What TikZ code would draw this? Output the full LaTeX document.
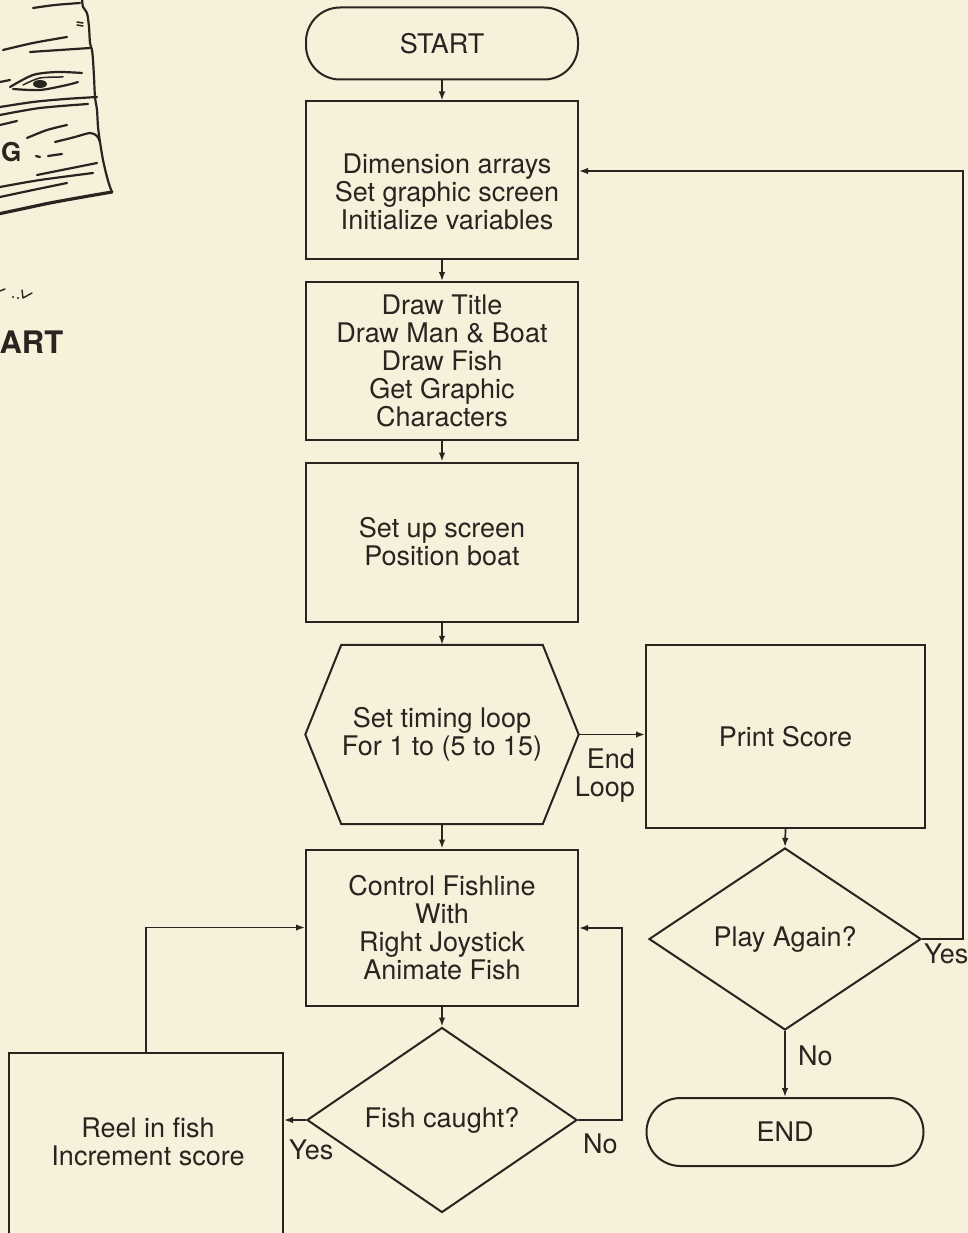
\documentclass[tikz,border=0pt]{standalone}
\usepackage{fontspec}
\setmainfont{TeX Gyre Heros}
\usetikzlibrary{arrows.meta,shapes.geometric}
\definecolor{paper}{RGB}{247,240,218}
\definecolor{ink}{RGB}{40,36,32}
\begin{document}
\begin{tikzpicture}[x=1pt,y=-1pt,
  every node/.style={font=\fontsize{27}{28}\selectfont, text=ink, inner sep=0pt},
  outline/.style={draw=ink, line width=2pt},
  procbox/.style={outline, rectangle, align=center},
  termbox/.style={outline, rectangle, rounded corners=34pt, align=center},
  decision/.style={outline, diamond, align=center},
  flow/.style={draw=ink, line width=1.7pt, -{Latex[length=9pt,width=6.5pt]}},
  sketch/.style={draw=ink, line width=2.2pt, line cap=round, line join=round},
  signfont/.style={font=\fontsize{31}{32}\selectfont\bfseries}
]
\useasboundingbox (0,0) rectangle (968,1233);
\fill[paper] (0,0) rectangle (968,1233);
\clip (0,0) rectangle (968,1233);

% ---- corner of the wooden sign ----
\draw[sketch] plot[smooth, tension=0.5] coordinates {(82,-2) (83,7) (87,13) (89,27) (90,43) (92,50) (93,60) (94,77) (95,97) (97,110) (98,127) (100,142)};
\draw[sketch] plot[smooth, tension=0.5] coordinates {(100,142) (103,160) (107,177) (110,187) (112,192)};
\draw[sketch, line width=3.2pt] plot[smooth, tension=0.5] coordinates {(112,192) (83,197) (50,203) (17,210) (-2,214)};
\draw[sketch, line width=1.5pt] (77,22) -- (83,23) (77,25) -- (83,26);
\draw[sketch] plot[smooth] coordinates {(33,8) (55,5) (80,3)};
\draw[sketch] plot[smooth] coordinates {(3,50) (33,43) (67,37)};
\draw[sketch] plot[smooth] coordinates {(30,52) (60,50) (90,48)};
\draw[sketch] plot[smooth] coordinates {(10,87) (33,75) (57,72) (82,73)};
\draw[sketch] plot[smooth] coordinates {(13,89) (40,90) (67,85) (78,82)};
\draw[sketch, line width=1.5pt] plot[smooth] coordinates {(23,85) (40,78) (63,77)};
\draw[sketch] (0,82) -- (10,80);
\fill[ink] (40,84) ellipse [x radius=7, y radius=4];
\draw[sketch] plot[smooth] coordinates {(0,107) (33,102) (65,99) (97,97)};
\draw[sketch] plot[smooth] coordinates {(0,115) (40,108) (88,104)};
\draw[sketch] (0,125) -- (17,121);
\draw[sketch] plot[smooth] coordinates {(27,138) (47,130) (67,125)};
\draw[sketch] plot[smooth] coordinates {(55,142) (75,137) (90,133) (97,136) (100,142)};
\draw[sketch] (36,156) -- (40,157) (48,156) -- (62,154);
\draw[sketch] plot[smooth] coordinates {(37,175) (67,169) (97,163)};
\draw[sketch] plot[smooth] coordinates {(0,187) (40,180) (93,173)};
\draw[sketch] plot[smooth] coordinates {(0,197) (33,190) (67,183)};
\node[font=\fontsize{26}{28}\selectfont\bfseries, anchor=base west] (signG) at (1,162) {G};
\draw[sketch, line width=1.4pt] (0,291) -- (5,289) (22,290) -- (23,298) -- (32,293);
\fill[ink] (13,297) circle (1.2) (18,298) circle (1.2);
\node[signfont, anchor=base east] (signArt) at (63.5,353) {ART};

% ---- main column ----
\node[termbox, minimum width=272pt, minimum height=72pt] (start) at (442,43.5) {START};
\node[procbox, minimum width=272pt, minimum height=157pt] (init) at (442,180) {};
\node[align=center] (initText) at (447,192) {Dimension arrays\\Set graphic screen\\Initialize variables};
\node[procbox, minimum width=272pt, minimum height=158pt] (title) at (442,361)
  {Draw Title\\Draw Man \& Boat\\Draw Fish\\Get Graphic\\Characters};
\node[procbox, minimum width=272pt, minimum height=159pt] (setup) at (442,542)
  {Set up screen\\Position boat};
\node[minimum width=273pt, minimum height=179pt, align=center] (loop) at (442,734.5)
  {Set timing loop\\For 1 to (5 to 15)};
\draw[outline, line join=miter] (loop.west) -- ([xshift=36pt]loop.north west)
  -- ([xshift=-36pt]loop.north east) -- (loop.east)
  -- ([xshift=-36pt]loop.south east) -- ([xshift=36pt]loop.south west) -- cycle;
\node[procbox, minimum width=272pt, minimum height=156pt] (control) at (442,927.5)
  {Control Fishline\\With\\Right Joystick\\Animate Fish};
\node[decision, minimum width=270pt, minimum height=185pt] (fish) at (442,1120) {Fish caught?};
\node[procbox, minimum width=274pt, minimum height=187pt] (reel) at (146,1146.5) {};
\node[align=center] (reelText) at (148,1142) {Reel in fish\\Increment score};

% ---- right column ----
\node[procbox, minimum width=279pt, minimum height=183pt] (print) at (785.5,736.5) {Print Score};
\node[decision, minimum width=272pt, minimum height=182pt] (play) at (785,939) {Play Again?};
\node[termbox, minimum width=277pt, minimum height=68pt] (finish) at (785,1132) {END};

% ---- connectors ----
\draw[flow] (start.south) -- (init.north);
\draw[flow] (init.south) -- (title.north);
\draw[flow] (title.south) -- (setup.north);
\draw[flow] (setup.south) -- (loop.north);
\draw[flow] (loop.south) -- (control.north);
\draw[flow] (control.south) -- (fish.north);
\draw[flow] (loop.east) -- (loop.east -| print.west);
\draw[flow] (print.south) -- (play.north);
\draw[flow] (play.south) -- (finish.north);
\coordinate (againTop) at (963,171);
\draw[flow] (play.east) -| (againTop) -- (againTop -| init.east);
\coordinate (retryTop) at (622,928);
\draw[flow] (fish.east) -| (retryTop) -- (retryTop -| control.east);
\draw[flow] (fish.west) -- (fish.west -| reel.east);
\draw[flow] (reel.north) |- (control.west);

% ---- connector labels ----
\node[align=right, anchor=east] (endLoop) at (635,775.5) {End\\Loop};
\node[anchor=base west] (yesPlay) at (924,963) {Yes};
\node[anchor=base west] (noPlay) at (798,1065) {No};
\node[anchor=base west] (noFish) at (583,1153) {No};
\node[anchor=base west] (yesFish) at (289,1159) {Yes};
\end{tikzpicture}
\end{document}
